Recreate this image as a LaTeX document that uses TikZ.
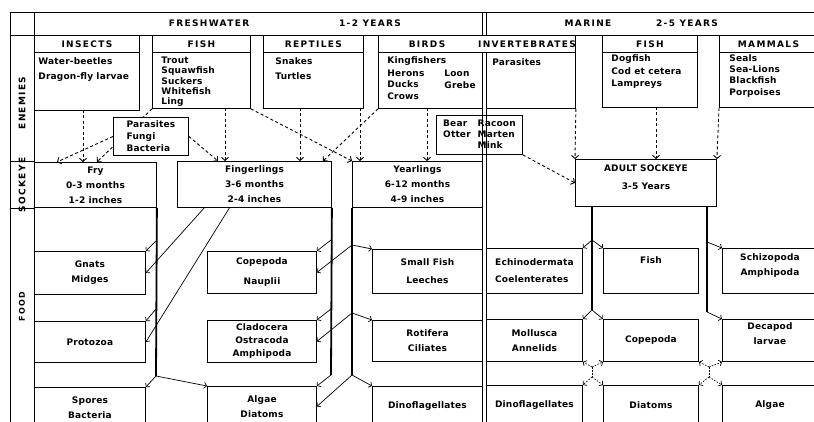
\documentclass[tikz,border=0pt]{standalone}
\usepackage{fontspec}
\newfontfamily\chartfont{DejaVu Sans}[LetterSpace=2]
\newfontfamily\capfont{DejaVu Sans}[LetterSpace=15]
\usetikzlibrary{arrows.meta}
\begin{document}
\begin{tikzpicture}[x=1pt, y=-1pt, line width=0.9pt,
  cell/.style={draw, line width=0.9pt, inner sep=0pt, anchor=north west, align=center,
    font=\chartfont\bfseries\fontsize{9}{15}\selectfont},
  hcell/.style={cell, font=\capfont\bfseries\fontsize{9}{11}\selectfont},
  lst/.style={inner sep=0pt, anchor=north west, align=left,
    font=\chartfont\bfseries\fontsize{9}{11}\selectfont},
  captxt/.style={inner sep=0pt, font=\capfont\bfseries\fontsize{9}{11}\selectfont},
  trunk/.style={line width=1.8pt},
  feed/.style={line width=0.7pt, -{Straight Barb[length=2.5pt,width=6pt]}},
  dotfeed/.style={feed, dash pattern=on 1.5pt off 1.5pt},
  enemy/.style={line width=0.9pt, dash pattern=on 3pt off 2.5pt, -{Straight Barb[length=3pt,width=7pt]}}]
\useasboundingbox (0,0) rectangle (814,422);
\clip (0,0) rectangle (814,422);

\draw (10,12) -- (814,12);
\draw (10,35) -- (814,35);
\draw (10,12) -- (10,422);
\draw (34,12) -- (34,422);
\draw (482,12) -- (482,35) (486,12) -- (486,35);
\draw (482,52) -- (482,422) (486,52) -- (486,422);
\draw (10,161) -- (34,161) (10,208) -- (34,208);

\node[captxt] (fw) at (209,23) {FRESHWATER};
\node[captxt] (fwy) at (370,23) {1-2 YEARS};
\node[captxt] (mr) at (588,23) {MARINE};
\node[captxt] (mry) at (687,23) {2-5 YEARS};
\node[captxt, rotate=90] (enm) at (22,103) {ENEMIES};
\node[captxt, rotate=90] (sock) at (22,185) {SOCKEYE};
\node[captxt, rotate=90, font=\capfont\bfseries\fontsize{8}{9}\selectfont] (food) at (22,307) {FOOD};

\node[hcell, minimum width=105pt, minimum height=17pt] (insH) at (34,35) {INSECTS};
\node[cell, minimum width=105pt, minimum height=58pt] (insB) at (34,52) {};
\node[lst] (insL) at (38,57.5) {Water-beetles\\[4pt]Dragon-fly larvae};

\node[hcell, minimum width=98pt, minimum height=17pt] (fishFH) at (152,35) {FISH};
\node[cell, minimum width=98pt, minimum height=56pt] (fishFB) at (152,52) {};
\node[lst] (fishFL) at (161,56.5) {Trout\\[-0.7pt]Squawfish\\[-0.7pt]Suckers\\[-0.7pt]Whitefish\\[-0.7pt]Ling};

\node[hcell, minimum width=100pt, minimum height=17pt] (repH) at (263,35) {REPTILES};
\node[cell, minimum width=100pt, minimum height=56pt] (repB) at (263,52) {};
\node[lst] (repL) at (275,57.5) {Snakes\\[4pt]Turtles};

\node[hcell, minimum width=197pt, minimum height=17pt] (birdH) at (378,35) {};
\node[captxt] (birdT) at (427,44) {BIRDS};
\node[captxt] (invT) at (527,44) {INVERTEBRATES};
\node[cell, minimum width=104pt, minimum height=56pt] (birdB) at (378,52) {};
\node[lst] (birdL) at (387,56.5) {Kingfishers\\[2pt]Herons\\Ducks\\[1pt]Crows};
\node[lst] (birdR) at (444,69.5) {Loon\\[1pt]Grebe};
\node[cell, minimum width=89pt, minimum height=56pt] (invB) at (486,52) {};
\node[lst] (invL) at (492,58.5) {Parasites};

\node[hcell, minimum width=95pt, minimum height=17pt] (fishMH) at (602,35) {FISH};
\node[cell, minimum width=95pt, minimum height=55pt] (fishMB) at (602,52) {};
\node[lst] (fishML) at (611,54.5) {Dogfish\\[2pt]Cod et cetera\\[1pt]Lampreys};

\node[hcell, minimum width=98pt, minimum height=17pt] (mamH) at (719,35) {MAMMALS};
\node[cell, minimum width=98pt, minimum height=55pt] (mamB) at (719,52) {};
\node[lst] (mamL) at (729,54.5) {Seals\\Sea-Lions\\Blackfish\\[1pt]Porpoises};

\node[cell, minimum width=122pt, minimum height=45pt] (fry) at (34,162) {Fry\\0-3 months\\1-2 inches};
\node[cell, minimum width=154pt, minimum height=46pt] (fing) at (177,161) {Fingerlings\\3-6 months\\2-4 inches};
\node[cell, minimum width=130pt, minimum height=46pt] (year) at (352,161) {Yearlings\\6-12 months\\4-9 inches};
\node[cell, minimum width=141pt, minimum height=47pt] (adult) at (575,159) {ADULT SOCKEYE\\[3pt]3-5 Years\\[-4pt]\mbox{}};

\node[cell, minimum width=111pt, minimum height=43pt] (gnats) at (34,251) {Gnats\\Midges};
\node[cell, minimum width=111pt, minimum height=41pt] (proto) at (34,321) {Protozoa};
\node[cell, minimum width=111pt, minimum height=40pt] (spores) at (34,387) {Spores\\Bacteria};
\node[cell, minimum width=109pt, minimum height=42pt] (cope) at (207,251) {Copepoda\\[5pt]Nauplii};
\node[cell, minimum width=109pt, minimum height=42pt] (clad) at (207,320) {Cladocera\\[-2pt]Ostracoda\\[-2pt]Amphipoda};
\node[cell, minimum width=109pt, minimum height=40pt] (algae) at (207,386) {Algae\\Diatoms};
\node[cell, minimum width=110pt, minimum height=44pt] (small) at (372,249) {Small Fish\\[3pt]Leeches};
\node[cell, minimum width=110pt, minimum height=41pt] (roti) at (372,320) {Rotifera\\Ciliates};
\node[cell, minimum width=110pt, minimum height=40pt] (dino) at (372,386) {Dinoflagellates};
\node[cell, minimum width=96pt, minimum height=45pt, align=left] (echi) at (486,248) {Echinodermata\\[2pt]Coelenterates};
\node[cell, minimum width=96pt, minimum height=42pt] (moll) at (486,319) {Mollusca\\Annelids};
\node[cell, minimum width=96pt, minimum height=40pt] (mdino) at (486,385) {Dinoflagellates};
\node[cell, minimum width=95pt, minimum height=45pt] (mfish) at (603,248) {Fish\\[6pt]\mbox{}};
\node[cell, minimum width=95pt, minimum height=42pt] (mcope) at (603,319) {Copepoda};
\node[cell, minimum width=95pt, minimum height=40pt] (mdiat) at (603,385) {Diatoms};
\node[cell, minimum width=95pt, minimum height=45pt] (schiz) at (722,248) {Schizopoda\\Amphipoda\\[-2pt]\mbox{}};
\node[cell, minimum width=95pt, minimum height=42pt] (deca) at (722,319) {Decapod\\larvae\\[-2pt]\mbox{}};
\node[cell, minimum width=95pt, minimum height=40pt] (malg) at (722,385) {Algae};

\coordinate (fryM) at (97,162);
\draw[enemy] (fishFB.south west) -- (fryM);
\node[cell, fill=white, minimum width=75pt, minimum height=38pt, align=left] (par) at (113,117) {Parasites\\[-3pt]Fungi\\[-3pt]Bacteria};
\node[cell, minimum width=86pt, minimum height=39pt, font=\chartfont\bfseries\fontsize{9}{11}\selectfont] (bear) at (436,115)
  {\begin{tabular}{@{}l@{\hspace{7pt}}l@{}}Bear&Racoon\\Otter&Marten\\&Mink\end{tabular}};

\coordinate (fryL) at (57,162);
\coordinate (fingL) at (218,161);
\coordinate (fingR) at (323,161);
\coordinate (dIns) at (83,110);
\coordinate (dFishF) at (225,108);
\coordinate (dRepA) at (300,108);
\coordinate (dRepB) at (360,108);
\coordinate (dBird) at (427,108);
\coordinate (dFishM) at (656,107);
\draw[enemy] (par.west) -- (fryL);
\draw[enemy] (par.east) -- (fingL);
\draw[enemy] (dIns) -- (dIns |- fry.north);
\draw[enemy] (dFishF) -- (dFishF |- fing.north);
\draw[enemy] (dRepA) -- (dRepA |- fing.north);
\draw[enemy] (dRepB) -- (dRepB |- year.north);
\draw[enemy] (dBird) -- (dBird |- year.north);
\draw[enemy] (fishFB.south east) -- (year.north west);
\draw[enemy] (birdB.south west) -- (fingR);
\draw[enemy] (invB.south east) -- (adult.north west);
\draw[enemy] (dFishM) -- (dFishM |- adult.north);
\draw[enemy] (mamB.south west) -- (adult.north east);
\draw[enemy] (bear.south east) -- (adult.west);

\coordinate (fryA) at (156,241);
\coordinate (fryB) at (156,309);
\coordinate (fryE) at (156,376);
\draw[trunk] (fry.south east) -- (fryE);
\draw[feed] (fryA) -- (gnats.north east);
\draw[feed] (fryB) -- (proto.north east);
\draw[feed] (fryE) -- (spores.north east);
\draw[feed] (fryE) -- (algae.north west);

\coordinate (fingP) at (205,207);
\coordinate (fingQ) at (230,207);
\draw[feed] (fingP) -- (gnats.east);
\draw[feed] (fingQ) -- (proto.east);
\coordinate (fingA) at (331,240);
\coordinate (fingB) at (331,309);
\coordinate (fingE) at (331,375);
\draw[trunk] (fing.south east) -- (fingE);
\draw[feed] (fingA) -- (cope.north east);
\draw[feed] (fingB) -- (clad.north east);
\draw[feed] (fingE) -- (algae.north east);

\coordinate (yearA) at (352,245);
\coordinate (yearB) at (352,313);
\coordinate (yearE) at (352,375);
\draw[trunk] (year.south west) -- (yearE);
\draw[feed] (yearA) -- (cope.east);
\draw[feed] (yearA) -- (small.north west);
\draw[feed] (yearB) -- (clad.east);
\draw[feed] (yearB) -- (roti.north west);
\draw[feed] (yearE) -- (algae.east);
\draw[feed] (yearE) -- (dino.north west);

\coordinate (adL) at (592,206);
\coordinate (adLA) at (592,240);
\coordinate (adLB) at (592,310);
\coordinate (adLC) at (592,367);
\coordinate (adLD) at (592,377);
\draw[trunk] (adL) -- (adLB);
\draw[feed] (adLA) -- (echi.north east);
\draw[feed] (adLA) -- (mfish.north west);
\draw[feed] (adLB) -- (moll.north east);
\draw[feed] (adLB) -- (mcope.north west);
\draw[line width=0.7pt, dash pattern=on 1.5pt off 1.5pt] (adLC) -- (adLD);
\draw[dotfeed] (adLC) -- (moll.south east);
\draw[dotfeed] (adLC) -- (mcope.south west);
\draw[dotfeed] (adLD) -- (mdino.north east);
\draw[dotfeed] (adLD) -- (mdiat.north west);

\coordinate (adR) at (707,206);
\coordinate (adRA) at (707,242);
\coordinate (adRB) at (707,312);
\coordinate (adRC) at (709,367);
\coordinate (adRD) at (709,377);
\draw[trunk] (adR) -- (adRB);
\draw[feed] (adRA) -- (schiz.north west);
\draw[feed] (adRB) -- (deca.north west);
\draw[line width=0.7pt, dash pattern=on 1.5pt off 1.5pt] (adRC) -- (adRD);
\draw[dotfeed] (adRC) -- (mcope.south east);
\draw[dotfeed] (adRC) -- (deca.south west);
\draw[dotfeed] (adRD) -- (mdiat.north east);
\draw[dotfeed] (adRD) -- (malg.north west);
\end{tikzpicture}
\end{document}
